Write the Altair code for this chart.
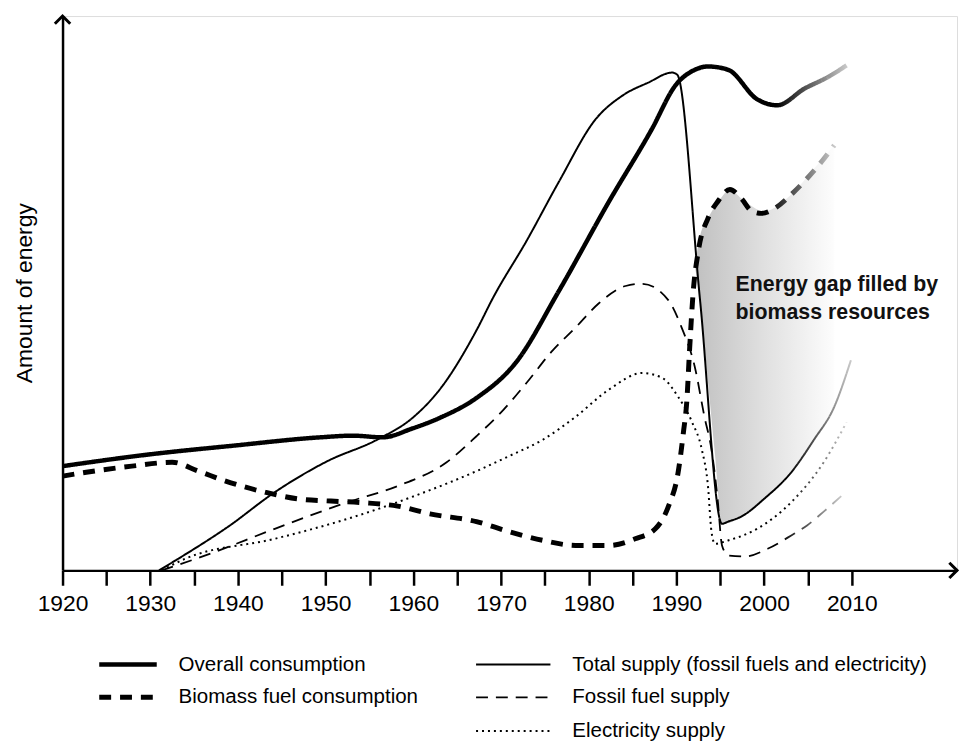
import altair as alt
import pandas as pd

FONT = "Liberation Sans, Arial, sans-serif"

# ---------------- data ----------------
overall_years = [1920, 1929.8, 1939.5, 1949.4, 1953.1, 1956.5, 1959.9, 1963.0, 1967.2, 1971.7,
                 1976.6, 1982.3, 1987.2, 1989.9, 1992.1, 1993.6, 1995.9, 1999.2, 2001.5, 2004.6,
                 2007.4, 2009.4]
overall_vals = [18.8, 20.9, 22.5, 24.0, 24.3, 24.0, 25.6, 27.5, 31.1, 37.5,
                50.4, 66.5, 79.6, 87.5, 90.3, 90.9, 90.3, 85.0, 83.9, 86.9,
                89.1, 91.1]

biomass_years = [1920, 1922.7, 1927.9, 1932.5, 1935.5, 1938.6, 1943.1, 1946.8, 1950.6, 1954.4,
                 1958.2, 1961.9, 1967.2, 1970.9, 1974.8, 1978.5, 1982.3, 1985.3, 1987.6, 1989.1,
                 1990.2, 1990.8, 1991.2, 1991.5, 1991.9, 1992.5, 1993.6, 1994.7, 1996.1, 1997.4,
                 1998.6, 1999.7, 2001.2, 2003.1, 2004.9, 2006.8, 2008.0]
biomass_vals = [17.0, 17.7, 18.8, 19.5, 17.9, 16.1, 14.1, 12.9, 12.5, 12.2,
                11.6, 10.2, 8.8, 7.0, 5.4, 4.5, 4.5, 5.7, 7.5, 11.6,
                17.7, 24.9, 30.8, 39.7, 49.9, 57.6, 63.5, 66.5, 68.7, 67.1,
                64.8, 64.4, 65.3, 67.8, 70.7, 74.2, 76.7]

total_years = [1931.0, 1933.2, 1938.9, 1944.2, 1950.2, 1955.9, 1959.9, 1963.0, 1967.2, 1969.1,
               1972.9, 1976.6, 1980.8, 1983.9, 1986.8, 1989.5, 1990.1, 1992.7, 1995.2, 1995.9,
               1997.4, 2000.0, 2003.1, 2005.7, 2008.0, 2009.9]
total_vals = [0.0, 2.1, 7.9, 14.1, 19.7, 23.6, 27.5, 32.6, 43.3, 49.2,
              59.4, 70.1, 81.4, 85.7, 88.0, 89.8, 89.4, 48.7, 8.4, 8.8,
              9.7, 12.9, 17.7, 23.6, 29.5, 37.9]

fossil_years = [1931.3, 1936.3, 1944.2, 1952.5, 1958.2, 1963.8, 1967.2, 1970.3, 1972.9, 1975.9,
                1978.5, 1981.1, 1984.2, 1986.1, 1989.1, 1990.6, 1992.1, 1993.2, 1994.0, 1994.7,
                1995.2, 1995.9, 1997.8, 2000.4, 2003.1, 2004.9, 2006.8, 2008.8]
fossil_vals = [0.0, 2.7, 7.5, 12.3, 15.2, 19.5, 24.2, 29.0, 33.8, 39.7,
               43.8, 48.1, 51.3, 51.7, 48.7, 43.8, 36.7, 27.7, 21.8, 12.9,
               4.5, 2.7, 2.5, 3.9, 6.3, 8.1, 10.6, 13.4]

elec_years = [1931.3, 1934.0, 1944.2, 1952.5, 1960.1, 1967.2, 1970.9, 1974.8, 1978.5, 1982.3,
              1986.1, 1988.4, 1990.2, 1991.8, 1992.9, 1993.6, 1994.0, 1994.4, 1995.9, 1999.2,
              2003.1, 2006.8, 2009.4]
elec_vals = [0.0, 2.1, 5.7, 9.3, 13.4, 17.9, 20.6, 23.6, 27.7, 32.6,
             35.6, 34.7, 31.3, 26.7, 21.8, 15.2, 7.0, 4.8, 5.4, 7.5,
             12.3, 19.5, 26.7]

gap_years = [1992.1, 1992.7, 1993.6, 1994.4, 1995.2, 1996.1, 1997.4, 2000.0, 2003.1, 2005.7, 2008.0]
gap_top = [54.9, 60.3, 63.5, 65.7, 67.4, 68.7, 67.1, 64.8, 67.8, 72.5, 76.7]
gap_bottom = [54.9, 48.7, 34.0, 20.9, 8.4, 8.6, 9.7, 12.9, 17.7, 23.6, 29.5]

tick_years = list(range(1920, 2015, 5))

annot_text = "Energy gap filled by\nbiomass resources"
annot_year = [1996.75]
annot_amount = [50.4]

# series: name, years, values, stroke width, dash
series = [
    ("Overall consumption", overall_years, overall_vals, 4.5, [1, 0]),
    ("Biomass fuel consumption", biomass_years, biomass_vals, 5, [12, 9]),
    ("Total supply (fossil fuels and electricity)", total_years, total_vals, 2, [1, 0]),
    ("Fossil fuel supply", fossil_years, fossil_vals, 1.8, [12, 8]),
    ("Electricity supply", elec_years, elec_vals, 2, [2, 4]),
]

# legend layout (pixels inside the chart's plot group)
legend_x0 = [37, 37, 417, 417, 417]
legend_x1 = [95, 95, 492, 492, 492]
legend_y = [654, 687, 721, 654, 687]
legend_y = [654, 687, 654, 687, 721]
legend_text_x = [117, 117, 514, 514, 514]

# ---------------- encodings ----------------
xscale = alt.Scale(domain=[1920, 2022], nice=False, zero=False)
yscale = alt.Scale(domain=[0, 100], nice=False, zero=False)

xaxis = alt.Axis(values=tick_years, format="d",
                 labelExpr="datum.value % 10 == 0 ? datum.label : ''",
                 tickSize=15, tickWidth=2.5, tickColor="black",
                 domainColor="black", domainWidth=2.5,
                 labelFont=FONT, labelFontSize=23, labelColor="black",
                 labelPadding=7, labelFlush=False, labelOverlap=False,
                 grid=False, title=None)
yaxis = alt.Axis(ticks=False, labels=False, grid=False,
                 domainColor="black", domainWidth=2.5,
                 title="Amount of energy", titleFont=FONT, titleFontSize=23,
                 titleFontWeight="normal", titleColor="black",
                 titleX=-38, titleY=279, titleAngle=270,
                 titleBaseline="middle", titleAlign="center")


def X(field="year"):
    return alt.X(f"{field}:Q", scale=xscale, axis=xaxis)


def Y(field="amount"):
    return alt.Y(f"{field}:Q", scale=yscale, axis=yaxis)


fade = alt.LinearGradient(
    gradient="linear", x1=0, x2=1, y1=0, y2=0,
    stops=[alt.GradientStop(offset=0, color="#000000"),
           alt.GradientStop(offset=0.91, color="#000000"),
           alt.GradientStop(offset=1, color="#c8c8c8")])

area_fill = alt.LinearGradient(
    gradient="linear", x1=0, x2=1, y1=0, y2=0,
    stops=[alt.GradientStop(offset=0, color="#c0c0c0"),
           alt.GradientStop(offset=0.5, color="#e0e0e0"),
           alt.GradientStop(offset=1, color="#fdfdfd")])

layers = []

gap_df = pd.DataFrame({"year": gap_years, "top": gap_top, "bottom": gap_bottom})
layers.append(alt.Chart(gap_df).mark_area(fill=area_fill, interpolate="monotone").encode(
    x=X(), y=Y("top"), y2="bottom:Q"))

for name, ys, vs, w, d in series:
    sdf = pd.DataFrame({"year": ys, "amount": vs, "idx": list(range(len(ys)))})
    layers.append(alt.Chart(sdf).mark_line(
        stroke=fade, strokeWidth=w, strokeDash=d, interpolate="monotone").encode(
        x=X(), y=Y(), order="idx:Q"))

annot_df = pd.DataFrame({"year": annot_year, "amount": annot_amount, "t": [annot_text]})
layers.append(alt.Chart(annot_df).mark_text(
    align="left", baseline="alphabetic", font=FONT, fontSize=21.5, fontWeight="bold",
    color="#111111", lineBreak="\n", lineHeight=28).encode(x=X(), y=Y(), text="t:N"))

layers.append(alt.Chart(pd.DataFrame({"year": [1920], "amount": [100]})).mark_point(
    shape="M-1,1L0,0L1,1", size=240, filled=False, stroke="black", strokeWidth=3,
    opacity=1).encode(x=X(), y=Y()))
layers.append(alt.Chart(pd.DataFrame({"year": [2022], "amount": [0]})).mark_point(
    shape="M-1,-1L0,0L-1,1", size=240, filled=False, stroke="black", strokeWidth=3,
    opacity=1).encode(x=X(), y=Y()))

# legend: one sample line per series plus its label
for i, (name, ys, vs, w, d) in enumerate(series):
    ldf = pd.DataFrame({"lx0": [legend_x0[i]], "lx1": [legend_x1[i]], "ly": [legend_y[i]]})
    layers.append(alt.Chart(ldf).mark_rule(color="black", strokeWidth=w, strokeDash=d).encode(
        x=alt.X("lx0:Q", scale=None, axis=None), x2="lx1:Q",
        y=alt.Y("ly:Q", scale=None, axis=None)))

ltext = pd.DataFrame({"lx": legend_text_x, "ly": legend_y, "label": [s[0] for s in series]})
layers.append(alt.Chart(ltext).mark_text(
    align="left", baseline="middle", font=FONT, fontSize=20.7, color="black").encode(
    x=alt.X("lx:Q", scale=None, axis=None), y=alt.Y("ly:Q", scale=None, axis=None),
    text="label:N"))

chart = alt.layer(*layers).properties(
    width=902, height=559,
    autosize=alt.AutoSizeParams(type="none"),
    padding={"left": 55, "top": 5, "right": 2, "bottom": 174},
).configure_view(stroke=None).configure(background="white")

chart.save("out.html", embed_options={"renderer": "svg", "actions": False})
